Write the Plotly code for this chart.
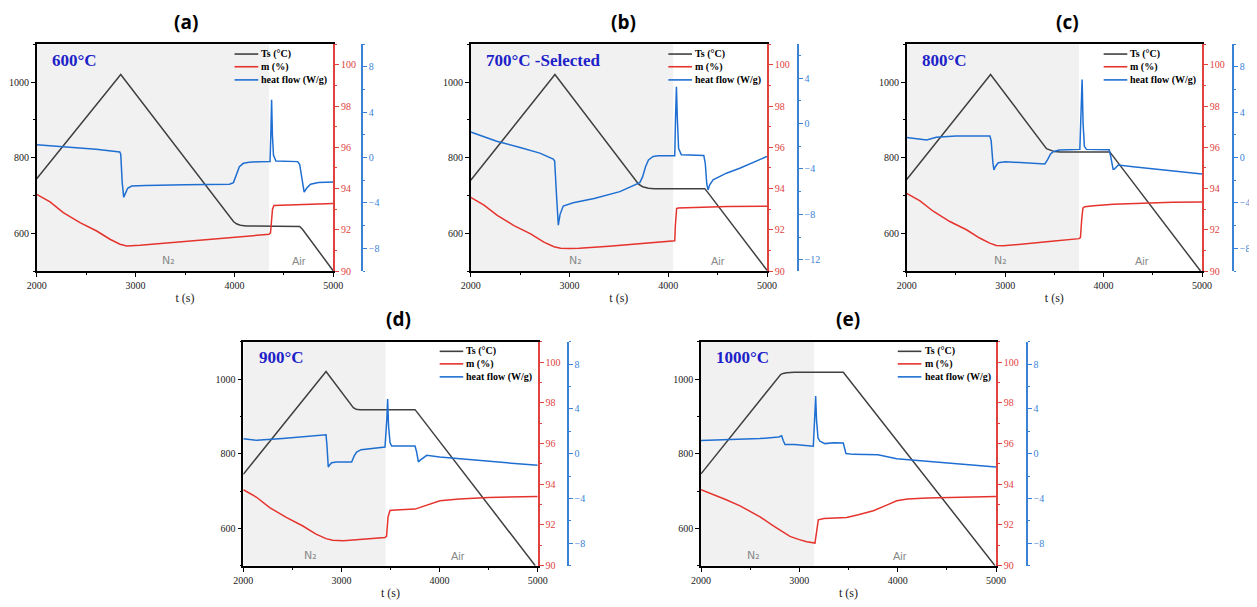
import plotly.graph_objects as go

# ---------------- data ----------------
panel_labels = ["(a)", "(b)", "(c)", "(d)", "(e)"]
temp_labels = ["600°C", "700°C -Selected", "800°C", "900°C", "1000°C"]
switch_t = [4350, 4050, 3750, 3450, 3150]          # N2 -> Air switch time (s)
n2_label_t = [3330, 3060, 2950, 2680, 2530]
air_label_t = [4650, 4500, 4390, 4190, 4025]
legend_names = ["Ts (°C)", "m (%)", "heat flow (W/g)"]

# (a) 600 C
t_ts_a = [2000, 2850, 3990, 4020, 4060, 4120, 4660, 4690, 5000]
ts_a = [744, 1020, 631, 625, 621, 619, 618, 610, 500]
t_m_a = [2000, 2135, 2269, 2438, 2607, 2741, 2843, 2910, 3045, 3278, 3600, 3900, 4200, 4350, 4365, 4375, 4385, 4400, 4500, 4700, 5000]
m_a = [93.72, 93.35, 92.83, 92.35, 91.94, 91.54, 91.3, 91.21, 91.25, 91.34, 91.46, 91.58, 91.7, 91.78, 91.85, 92.3, 93.0, 93.18, 93.2, 93.24, 93.28]
t_hf_a = [2000, 2300, 2600, 2840, 2850, 2865, 2880, 2895, 2920, 2960, 3100, 3500, 3950, 3990, 4020, 4050, 4090, 4150, 4250, 4360,
          4368, 4376, 4384, 4395, 4420, 4500, 4640, 4660, 4690, 4705, 4730, 4770, 4850, 5000]
hf_a = [1.14, 0.95, 0.75, 0.5, 0.3, -2.2, -3.5, -3.2, -2.7, -2.5, -2.45, -2.4, -2.35, -2.2, -1.4, -0.8, -0.5, -0.4, -0.36, -0.35,
        2.0, 5.1, 2.0, 0.2, -0.3, -0.33, -0.35, -0.6, -2.3, -3.05, -2.7, -2.35, -2.2, -2.15]

# (b) 700 C
t_ts_b = [2000, 2853, 3700, 3740, 3800, 3860, 4370, 4400, 5000]
ts_b = [740, 1020, 730, 723, 719, 718, 718, 708, 502]
t_m_b = [2000, 2135, 2269, 2438, 2607, 2741, 2843, 2910, 3000, 3100, 3400, 3700, 4000, 4066, 4072, 4078, 4085, 4100, 4300, 4600, 5000]
m_b = [93.57, 93.2, 92.7, 92.2, 91.8, 91.4, 91.18, 91.1, 91.09, 91.1, 91.2, 91.32, 91.43, 91.47, 92.2, 92.9, 93.03, 93.06, 93.1, 93.13, 93.14]
t_hf_b = [2000, 2100, 2263, 2500, 2700, 2836, 2850, 2870, 2887, 2905, 2937, 3038, 3250, 3510, 3712, 3740, 3770, 3800, 3847, 3900,
          4066, 4074, 4083, 4092, 4105, 4133, 4250, 4360, 4375, 4390, 4403, 4420, 4454, 4589, 4724, 4850, 5000]
hf_b = [-0.73, -1.05, -1.56, -2.1, -2.6, -3.13, -3.3, -6.5, -8.96, -8.0, -7.27, -6.98, -6.6, -6.0, -5.2, -4.7, -3.8, -3.2, -2.9, -2.83,
        -2.83, 0.5, 3.26, 0.5, -2.2, -2.75, -2.77, -2.8, -3.5, -5.3, -5.85, -5.4, -4.96, -4.37, -3.93, -3.45, -2.89]

# (c) 800 C
t_ts_c = [2000, 2852, 3420, 3460, 3500, 3560, 4063, 4090, 4985]
ts_c = [742, 1020, 824, 819, 816, 815, 815, 806, 500]
t_m_c = [2000, 2135, 2269, 2438, 2607, 2741, 2843, 2910, 2981, 3200, 3500, 3752, 3765, 3778, 3790, 3809, 3900, 4100, 4400, 4700, 5000]
m_c = [93.77, 93.4, 92.9, 92.4, 92.0, 91.6, 91.35, 91.24, 91.22, 91.33, 91.45, 91.57, 91.62, 92.5, 93.05, 93.12, 93.17, 93.24, 93.3, 93.33, 93.35]
t_hf_c = [2000, 2100, 2203, 2300, 2500, 2845, 2858, 2875, 2886, 2900, 2930, 3000, 3200, 3403, 3430, 3460, 3488, 3550, 3759, 3768,
          3782, 3792, 3805, 3826, 3950, 4057, 4075, 4097, 4110, 4150, 4300, 4500, 4700, 5000]
hf_c = [1.78, 1.65, 1.55, 1.8, 1.9, 1.9, 1.5, -0.4, -1.09, -0.8, -0.45, -0.36, -0.45, -0.56, -0.2, 0.3, 0.52, 0.67, 0.73, 3.0,
        6.89, 3.0, 1.0, 0.73, 0.72, 0.7, 0.0, -1.03, -1.0, -0.65, -0.8, -1.0, -1.2, -1.44]

# (d) 900 C
t_ts_d = [2000, 2843, 3121, 3150, 3190, 3250, 3750, 3780, 4975]
ts_d = [745, 1020, 923, 919, 918, 918, 918, 908, 500]
t_m_d = [2000, 2135, 2269, 2438, 2607, 2741, 2843, 2910, 3019, 3200, 3444, 3460, 3475, 3495, 3550, 3750, 3850, 3950, 4004, 4200, 4500, 5000]
m_d = [93.73, 93.36, 92.85, 92.37, 91.95, 91.55, 91.33, 91.25, 91.23, 91.28, 91.38, 91.45, 92.4, 92.71, 92.74, 92.78, 92.95, 93.12, 93.19, 93.28, 93.35, 93.4]
t_hf_d = [2000, 2136, 2400, 2700, 2843, 2852, 2866, 2880, 2900, 2950, 3104, 3130, 3155, 3200, 3444, 3462, 3471, 3480, 3495, 3512,
          3600, 3750, 3765, 3784, 3800, 3869, 4000, 4300, 4600, 5000]
hf_d = [1.33, 1.19, 1.35, 1.55, 1.69, 0.8, -1.19, -1.0, -0.8, -0.74, -0.74, -0.2, 0.15, 0.36, 0.59, 3.0, 4.89, 2.5, 1.0, 0.68,
        0.66, 0.68, 0.2, -0.74, -0.6, -0.15, -0.3, -0.55, -0.75, -1.04]

# (e) 1000 C
t_ts_e = [2000, 2810, 2835, 2870, 2950, 3447, 4990]
ts_e = [746, 1012, 1015, 1017, 1018, 1018, 500]
t_m_e = [2000, 2100, 2250, 2397, 2600, 2736, 2905, 3000, 3075, 3159, 3168, 3180, 3193, 3250, 3481, 3600, 3753, 3900, 3990, 4100, 4300, 5000]
m_e = [93.73, 93.55, 93.25, 92.94, 92.4, 91.96, 91.44, 91.28, 91.18, 91.11, 91.4, 92.0, 92.25, 92.32, 92.37, 92.5, 92.7, 93.0, 93.19, 93.27, 93.32, 93.4]
t_hf_e = [2000, 2300, 2600, 2790, 2803, 2820, 2835, 2854, 2950, 3142, 3155, 3166, 3175, 3190, 3210, 3260, 3350, 3447, 3460, 3474,
          3550, 3700, 3800, 3990, 4200, 4500, 4800, 5000]
hf_e = [1.17, 1.25, 1.35, 1.5, 1.55, 1.6, 1.2, 0.82, 0.82, 0.67, 3.0, 5.16, 3.0, 1.4, 1.11, 0.9, 0.98, 0.96, 0.5, 0.02,
        -0.06, -0.06, -0.1, -0.45, -0.6, -0.8, -1.0, -1.18]

ts_series = [(t_ts_a, ts_a), (t_ts_b, ts_b), (t_ts_c, ts_c), (t_ts_d, ts_d), (t_ts_e, ts_e)]
m_series = [(t_m_a, m_a), (t_m_b, m_b), (t_m_c, m_c), (t_m_d, m_d), (t_m_e, m_e)]
hf_series = [(t_hf_a, hf_a), (t_hf_b, hf_b), (t_hf_c, hf_c), (t_hf_d, hf_d), (t_hf_e, hf_e)]
hf_ranges = [[-10, 10], [-13, 7], [-10, 10], [-10, 10], [-10, 10]]

# ---------------- layout geometry (screen pixels) ----------------
PAGE_OFF = 8                 # default page body margin
W, H = 1257 - PAGE_OFF, 607 - PAGE_OFF
# x_left, x_right, blue-axis x, row, title-x
geom = [
    (36.7, 333.3, 362.0, 0, 186),
    (470.7, 767.0, 797.7, 0, 623),
    (906.7, 1202.0, 1233.0, 0, 1067),
    (243.3, 537.7, 567.7, 1, 398),
    (701.0, 996.0, 1026.7, 1, 848),
]
rows = [(44.3, 271.0, 22), (341.7, 565.7, 319)]

GRAY = "#404040"
RED = "#e5332e"
BLUE = "#1f6fd2"
RED_AX = "#e0423d"
BLUE_AX = "#3a82d6"
TXT = "#222222"
SERIF = "Liberation Serif"


def fx(px):
    return (px - PAGE_OFF) / W


def fy(py):
    return 1 - (py - PAGE_OFF) / H


fig = go.Figure()
layout = {}
shapes = []
annotations = []

for i in range(5):
    k = i + 1
    xl, xr, xb, r, tx = geom[i]
    top, bot, ty = rows[r]
    xn = "x" if k == 1 else f"x{k}"
    xkey = "xaxis" if k == 1 else f"xaxis{k}"
    nl, nr, nb = 3 * i + 1, 3 * i + 2, 3 * i + 3
    yln = "y" if nl == 1 else f"y{nl}"
    ylk = "yaxis" if nl == 1 else f"yaxis{nl}"
    yrn, yrk = f"y{nr}", f"yaxis{nr}"
    ybn, ybk = f"y{nb}", f"yaxis{nb}"

    xdom = [fx(xl), fx(xr)]
    ydom = [fy(bot), fy(top)]

    layout[xkey] = dict(
        domain=xdom, anchor=yln, range=[2000, 5000], tick0=2000, dtick=1000,
        ticks="outside", ticklen=4, tickwidth=1, tickcolor="black",
        minor=dict(dtick=500, ticks="outside", ticklen=2, tickcolor="black"),
        showline=True, linecolor="black", linewidth=1.6, mirror=True,
        showgrid=False, zeroline=False,
        tickfont=dict(family=SERIF, size=10, color=TXT),
        title=dict(text="t (s)", font=dict(family=SERIF, size=12, color=TXT), standoff=4),
    )
    layout[ylk] = dict(
        domain=ydom, anchor=xn, range=[500, 1100], tick0=0, dtick=200,
        ticks="outside", ticklen=4, tickcolor="black",
        minor=dict(dtick=100, ticks="outside", ticklen=2, tickcolor="black"),
        showline=True, linecolor="black", linewidth=1.6,
        showgrid=False, zeroline=False,
        tickfont=dict(family=SERIF, size=10, color=TXT),
    )
    layout[yrk] = dict(
        overlaying=yln, anchor=xn, side="right", range=[90, 101], tick0=0, dtick=2,
        ticks="outside", ticklen=4, tickcolor=RED_AX,
        minor=dict(dtick=1, ticks="outside", ticklen=2, tickcolor=RED_AX),
        showline=True, linecolor=RED_AX, linewidth=1.6,
        showgrid=False, zeroline=False,
        tickfont=dict(family=SERIF, size=10, color=RED_AX),
    )
    layout[ybk] = dict(
        overlaying=yln, anchor="free", position=fx(xb), side="right",
        range=hf_ranges[i], tick0=0, dtick=4,
        ticks="outside", ticklen=4, tickcolor=BLUE_AX,
        minor=dict(dtick=2, ticks="outside", ticklen=2, tickcolor=BLUE_AX),
        showline=True, linecolor=BLUE_AX, linewidth=1.6,
        showgrid=False, zeroline=False,
        tickfont=dict(family=SERIF, size=10, color=BLUE_AX),
    )

    # traces
    t, v = ts_series[i]
    fig.add_trace(go.Scatter(x=t, y=v, mode="lines", name=legend_names[0], xaxis=xn, yaxis=yln,
                             line=dict(color=GRAY, width=1.5), showlegend=False))
    t, v = m_series[i]
    fig.add_trace(go.Scatter(x=t, y=v, mode="lines", name=legend_names[1], xaxis=xn, yaxis=yrn,
                             line=dict(color=RED, width=1.5), showlegend=False))
    t, v = hf_series[i]
    fig.add_trace(go.Scatter(x=t, y=v, mode="lines", name=legend_names[2], xaxis=xn, yaxis=ybn,
                             line=dict(color=BLUE, width=1.5), showlegend=False))

    # N2 shaded region
    shapes.append(dict(type="rect", xref=xn, yref=f"{yln} domain", x0=2000, x1=switch_t[i], y0=0, y1=1,
                       fillcolor="#f1f1f1", line=dict(width=0), layer="below"))

    # manual legend
    for j, (nm, col) in enumerate(zip(legend_names, [GRAY, RED, BLUE])):
        yy = [0.957, 0.901, 0.843][j]
        shapes.append(dict(type="line", xref=f"{xn} domain", yref=f"{yln} domain",
                           x0=0.667, x1=0.747, y0=yy, y1=yy, line=dict(color=col, width=1.6)))
        annotations.append(dict(text=nm, xref=f"{xn} domain", yref=f"{yln} domain", x=0.751, y=yy,
                                xanchor="left", yanchor="middle", showarrow=False,
                                font=dict(family=SERIF, size=10, color="black", weight="bold")))

    # temperature label
    annotations.append(dict(text=temp_labels[i], xref=f"{xn} domain", yref=f"{yln} domain", x=0.045, y=0.928,
                            xanchor="left", yanchor="middle", showarrow=False,
                            font=dict(family=SERIF, size=17, color="#1c22c8", weight="bold")))
    # gas labels
    annotations.append(dict(text="N₂", xref=xn, yref=yln, x=n2_label_t[i], y=527,
                            xanchor="center", yanchor="middle", showarrow=False,
                            font=dict(family="DejaVu Sans", size=11, color="#8a8a8a")))
    annotations.append(dict(text="Air", xref=xn, yref=yln, x=air_label_t[i], y=527,
                            xanchor="center", yanchor="middle", showarrow=False,
                            font=dict(family="Liberation Sans", size=11, color="#8a8a8a")))
    # panel title
    annotations.append(dict(text=panel_labels[i], xref="paper", yref="paper", x=fx(tx), y=fy(ty),
                            xanchor="center", yanchor="middle", showarrow=False,
                            font=dict(family="Open Sans", size=19, color="black", weight="bold")))

fig.update_layout(
    width=W, height=H, autosize=False,
    margin=dict(l=0, r=0, t=0, b=0),
    template="none",
    paper_bgcolor="white", plot_bgcolor="white",
    showlegend=False,
    shapes=shapes, annotations=annotations,
    **layout,
)

fig.write_html("out.html")
